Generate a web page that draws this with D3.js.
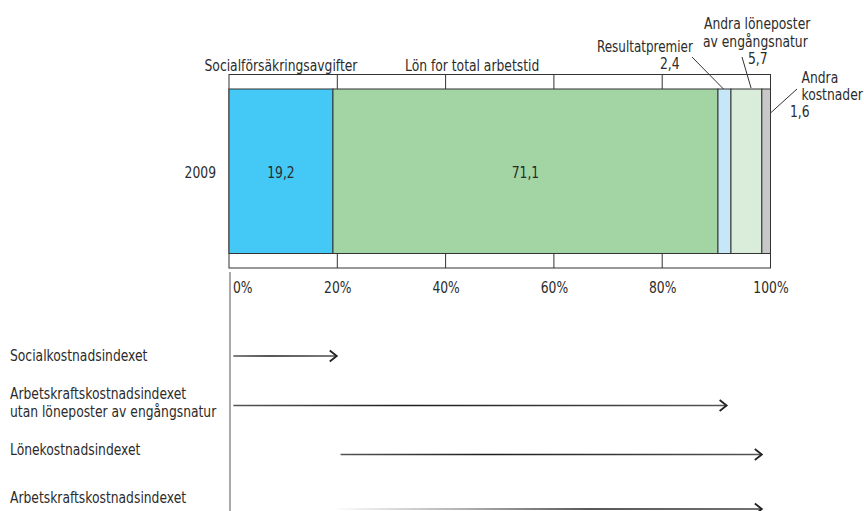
<!DOCTYPE html>
<html>
<head>
<meta charset="utf-8">
<script src="https://cdn.jsdelivr.net/npm/d3@7"></script>
<style>
  html, body { margin: 0; padding: 0; background: #fff; }
  svg text { font-family: "DejaVu Sans Condensed", "Liberation Sans", sans-serif; font-stretch: condensed; fill: #2b2b2b; }
</style>
</head>
<body>
<svg id="chart" width="864" height="511"></svg>
<script>
// Cost components, share of total labour cost (%)
const year = "2009";
const segmentNames = [
  "Socialförsäkringsavgifter",
  "Lön for total arbetstid",
  "Resultatpremier",
  "Andra löneposter av engångsnatur",
  "Andra kostnader"
];
const segmentValues = [19.2, 71.1, 2.4, 5.7, 1.6];
const segmentColors = ["#44c8f5", "#a3d5a4", "#c6e7f8", "#daedda", "#c8c8c8"];

// Axis ticks (%)
const tickValues = [0, 20, 40, 60, 80, 100];

// Coverage of each index along the cost scale (% start, % end)
const indexNames = [
  ["Socialkostnadsindexet"],
  ["Arbetskraftskostnadsindexet", "utan löneposter av engångsnatur"],
  ["Lönekostnadsindexet"],
  ["Arbetskraftskostnadsindexet"]
];
const indexStart = [0.8, 0.8, 20.6, 19.2];
const indexEnd = [19.9, 91.9, 98.4, 98.4];

const fmt = v => d3.format(".1f")(v).replace(".", ",");

const FS = 15.5;        // font size
const SQUEEZE = 0.885;  // horizontal condensing of the label face

const svg = d3.select("#chart");
const ink = "#333";

// place a condensed text at (px, py)
function label(parent, px, py, str, anchor, squeeze) {
  return parent.append("text")
    .attr("transform", `translate(${px},${py}) scale(${squeeze || SQUEEZE},1)`)
    .attr("text-anchor", anchor || "start")
    .attr("font-size", FS)
    .text(str);
}

const x = d3.scaleLinear().domain([0, 100]).range([229, 770.5]);
const y = d3.scaleBand().domain([year]).range([89, 253.5]).padding(0);
const strip = 14.5; // height of the tick strips above and below the bar

// stacked segments
let acc = 0;
const segs = segmentValues.map((v, i) => {
  const s = { name: segmentNames[i], value: v, x0: acc, x1: acc + v, color: segmentColors[i] };
  acc += v;
  return s;
});

// outer frame with tick strips
const frameTop = y(year) - strip, frameBot = y(year) + y.bandwidth() + strip;
svg.append("rect")
  .attr("x", x(0)).attr("y", frameTop)
  .attr("width", x(100) - x(0)).attr("height", frameBot - frameTop)
  .attr("fill", "#fff").attr("stroke", ink).attr("stroke-width", 1);

const inner = tickValues.filter(t => t > 0 && t < 100);
svg.append("g").selectAll("line").data(inner).join("line")
  .attr("x1", d => x(d)).attr("x2", d => x(d))
  .attr("y1", frameTop).attr("y2", y(year))
  .attr("stroke", ink).attr("stroke-width", 1);
svg.append("g").selectAll("line").data(inner).join("line")
  .attr("x1", d => x(d)).attr("x2", d => x(d))
  .attr("y1", y(year) + y.bandwidth()).attr("y2", frameBot)
  .attr("stroke", ink).attr("stroke-width", 1);

svg.append("g").selectAll("rect").data(segs).join("rect")
  .attr("x", d => x(d.x0)).attr("y", y(year))
  .attr("width", d => x(d.x1) - x(d.x0)).attr("height", y.bandwidth())
  .attr("fill", d => d.color).attr("stroke", ink).attr("stroke-width", 1);

// value labels inside the two large segments
const midY = y(year) + y.bandwidth() / 2 + 6.5;
segs.slice(0, 2).forEach(d => label(svg, x((d.x0 + d.x1) / 2), midY, fmt(d.value), "middle"));

// category label
label(svg, x(0) - 13, midY, year, "end");

// segment names above the bar
label(svg, x((segs[0].x0 + segs[0].x1) / 2), 71, segs[0].name, "middle");
label(svg, 405, 71, segs[1].name);

// callouts for the narrow segments
function leader(x1, y1, x2, y2) {
  svg.append("line").attr("x1", x1).attr("y1", y1).attr("x2", x2).attr("y2", y2)
    .attr("stroke", ink).attr("stroke-width", 1);
}
const s2 = segs[2], s3 = segs[3], s4 = segs[4];
label(svg, 597, 51.5, s2.name, "start", 0.86);
label(svg, 660, 68.5, fmt(s2.value));
leader(692, 57, x((s2.x0 + s2.x1) / 2) - 1, y(year));

const s3words = s3.name.split(" ");
label(svg, 704, 28.5, s3words.slice(0, 2).join(" "));
label(svg, 703, 46.5, s3words.slice(2).join(" "));
label(svg, 748, 63.5, fmt(s3.value));
leader(742, 57, x(s3.x0 + s3.value * 0.65), y(year) - 1);

const s4words = s4.name.split(" ");
label(svg, 801.5, 83, s4words[0]);
label(svg, 801.5, 100, s4words[1]);
label(svg, 790, 117, fmt(s4.value));
leader(797, y(year), x(100), 113);

// percentage axis
const axis = svg.append("g")
  .attr("transform", `translate(0,${frameBot})`)
  .call(d3.axisBottom(x).tickValues(tickValues).tickFormat(d => d + "%").tickSize(0).tickPadding(0));
axis.select(".domain").remove();
axis.selectAll("text")
  .attr("y", null).attr("dy", null)
  .attr("transform", d => `translate(${d === 0 ? 3.5 : 0},25) scale(${SQUEEZE},1)`)
  .attr("font-size", FS)
  .attr("fill", "#2b2b2b")
  .attr("text-anchor", d => d === 0 ? "start" : "middle");
axis.attr("font-family", null);

// vertical reference line under the axis
svg.append("line")
  .attr("x1", x(0) + 1).attr("x2", x(0) + 1)
  .attr("y1", 272).attr("y2", 511)
  .attr("stroke", "#555").attr("stroke-width", 1);

// index coverage arrows
const labelBase = [[361], [399, 417], [455], [503]];
const arrowY = [356, 405.5, 454.5, 509];

const defs = svg.append("defs");
const gFade = defs.append("linearGradient").attr("id", "fadeIn")
  .attr("x1", "0%").attr("x2", "100%").attr("y1", "0%").attr("y2", "0%");
gFade.append("stop").attr("offset", "0%").attr("stop-color", "#fff");
gFade.append("stop").attr("offset", "30%").attr("stop-color", "#999");
gFade.append("stop").attr("offset", "60%").attr("stop-color", "#222");
gFade.append("stop").attr("offset", "100%").attr("stop-color", "#444");
const gLine = defs.append("linearGradient").attr("id", "lineShade")
  .attr("x1", "0%").attr("x2", "100%").attr("y1", "0%").attr("y2", "0%");
gLine.append("stop").attr("offset", "0%").attr("stop-color", "#555");
gLine.append("stop").attr("offset", "35%").attr("stop-color", "#1e1e1e");
gLine.append("stop").attr("offset", "100%").attr("stop-color", "#555");

indexNames.forEach((names, i) => {
  names.forEach((t, j) => label(svg, 10, labelBase[i][j], t));
  const xa = x(indexStart[i]), xb = x(indexEnd[i]), yy = arrowY[i];
  svg.append("rect")
    .attr("x", xa).attr("y", yy - 0.75).attr("width", xb - xa - 1).attr("height", 1.5)
    .attr("fill", i === 3 ? "url(#fadeIn)" : "url(#lineShade)");
  svg.append("path")
    .attr("d", `M${xb - 7},${yy - 5.5}L${xb},${yy}L${xb - 7},${yy + 5.5}`)
    .attr("fill", "none").attr("stroke", "#222").attr("stroke-width", 1.8);
});
</script>
</body>
</html>
